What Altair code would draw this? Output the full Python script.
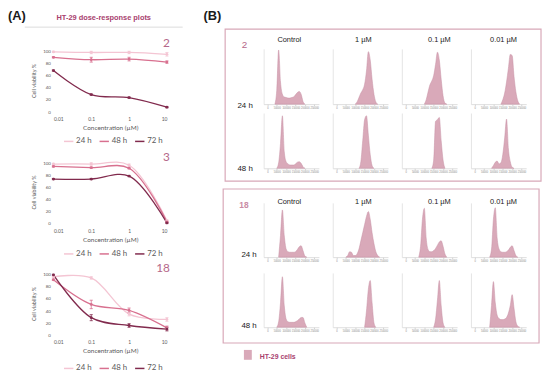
import altair as alt
import pandas as pd

# ---------------- Panel A : dose-response data ----------------
CONC = [0.01, 0.1, 1, 10]
TIMES = ["24 h", "48 h", "72 h"]
TIME_COLORS = ["#f4c5d3", "#d8708f", "#812a4d"]
VIAB_TICKS = [0, 20, 40, 60, 80, 100]

# compound 2
V2_24 = [100, 99, 99, 96]
E2_24 = [1, 2, 2, 3]
V2_48 = [91, 87, 88, 83]
E2_48 = [1, 4, 3, 2]
V2_72 = [69, 29, 24, 8]
E2_72 = [1, 1, 1, 1]
# compound 3
V3_24 = [99, 99, 97, 5]
E3_24 = [1, 2, 2, 1]
V3_48 = [95, 93, 92, 3]
E3_48 = [1, 1, 1, 1]
V3_72 = [74, 74, 79, 1]
E3_72 = [1, 1, 1, 1]
# compound 18
V18_24 = [97, 95, 35, 26]
E18_24 = [1, 2, 3, 3]
V18_48 = [92, 51, 41, 12]
E18_48 = [1, 7, 4, 3]
V18_72 = [100, 29, 16, 10]
E18_72 = [1, 5, 3, 3]

COMPOUNDS = ["2", "3", "18"]
PANEL_LABELS = ["(A)", "(B)"]
PANEL_A_TITLE = "HT-29 dose-response plots"

# ---------------- Panel B : cell-cycle histograms ----------------
DNA_BINS = [0, 10000, 20000, 30000, 40000, 50000, 60000, 70000, 80000, 90000,
            100000, 110000, 120000, 130000, 140000, 150000, 160000, 170000,
            180000, 190000, 200000, 210000, 220000, 230000, 240000, 250000]
DNA_TICKS = [0, 50000, 100000, 150000, 200000, 250000]
COLUMNS = ["Control", "1 µM", "0.1 µM", "0.01 µM"]
ROW_LABELS = ["24 h", "48 h"]
LEGEND_B = "HT-29 cells"

H2_24_CTRL = [0,0,0,0,0,25,98,40,18,13,12,11,11,12,13,17,21,23,18,5,0,0,0,0,0,0]
H2_24_1UM = [0,0,0,0,0,0,0,0,0,0,0,4,12,20,26,36,60,95,80,45,18,4,0,0,0,0]
H2_24_01UM = [0,0,0,0,0,0,0,0,0,0,0,8,22,35,42,52,72,94,80,45,15,2,0,0,0,0]
H2_24_001UM = [0,0,0,0,0,0,0,0,0,0,0,0,0,0,0,8,20,40,65,90,88,50,22,6,0,0]
H2_48_CTRL = [0,0,0,0,0,0,10,45,95,30,12,8,6,6,6,8,11,12,9,3,0,0,0,0,0,0]
H2_48_1UM = [0,0,0,0,0,0,0,0,0,0,0,0,0,12,50,88,95,60,25,5,0,0,0,0,0,0]
H2_48_01UM = [0,0,0,0,0,0,0,0,0,0,0,0,0,0,0,15,85,88,92,50,15,0,0,0,0,0]
H2_48_001UM = [0,0,0,0,0,0,0,0,0,0,5,11,13,8,10,25,55,89,35,12,2,0,0,0,0,0]

H18_24_CTRL = [0,0,0,0,0,0,0,40,87,40,15,10,9,9,9,10,14,19,21,12,2,0,0,0,0,0]
H18_24_1UM = [0,0,0,0,0,0,3,10,9,3,3,6,15,30,45,60,75,84,70,45,25,10,3,0,0,0]
H18_24_01UM = [0,0,0,0,0,0,0,0,20,70,90,35,14,10,10,12,16,22,28,30,20,6,0,0,0,0]
H18_24_001UM = [0,0,0,0,0,0,0,0,0,15,70,91,35,15,10,9,9,10,13,18,21,12,3,0,0,0]
H18_48_CTRL = [0,0,0,0,0,0,10,45,93,40,15,10,9,9,9,10,12,15,18,18,8,0,0,0,0,0]
H18_48_1UM = [0,0,0,0,0,0,0,0,0,0,0,0,0,0,0,0,30,70,86,45,8,0,0,0,0,0]
H18_48_01UM = [0,0,0,0,0,0,0,0,0,0,0,0,0,0,0,0,15,50,86,40,8,0,0,0,0,0]
H18_48_001UM = [0,0,0,0,0,0,0,0,0,40,84,45,22,16,14,14,15,18,26,40,60,35,10,2,0,0]

# ---------------- styles ----------------
ACCENT = "#a8416e"
NUM_COLOR = "#b5678a"
NUM_COLOR_LIGHT = "#c98ba4"
HIST_FILL = "#d9a9b9"
HIST_EDGE = "#c68ea3"
BOX_STROKE = "#d8a8b8"
AX_GREY = "#595959"


def one(text):
    return pd.DataFrame({"t": [text]})


def text_at(s, x, y, **kw):
    return alt.Chart(one(s)).mark_text(**kw).encode(
        text="t:N", x=alt.value(x), y=alt.value(y))


# ---------------- line panels ----------------
def line_panel(num, vals, errs, num_dy, legend_y, header=False):
    rows = []
    for t, v, e in zip(TIMES, vals, errs):
        for c, vi, ei in zip(CONC, v, e):
            rows.append({"conc": c, "time": t, "v": vi, "lo": vi - ei, "hi": vi + ei})
    df = pd.DataFrame(rows)
    cscale = alt.Scale(domain=TIMES, range=TIME_COLORS)
    xs = alt.Scale(type="log", domain=[0.01, 10], nice=False)
    ys = alt.Scale(domain=[0, 105], nice=False, zero=False)
    xaxis = alt.Axis(values=CONC, format="~g", labelFontSize=5, labelFont="Lato",
                     labelColor=AX_GREY, labelPadding=5, domain=False, ticks=False,
                     grid=False, title="Concentration (µM)", titleFont="Lato",
                     titleFontSize=6.5, titleFontWeight="normal", titleColor=AX_GREY,
                     titlePadding=3)
    yaxis = alt.Axis(values=VIAB_TICKS, labelFontSize=4.5, labelFont="Lato",
                     labelColor=AX_GREY, labelPadding=3, domain=False, ticks=False,
                     grid=False, title="Cell viability %", titleFont="Lato",
                     titleFontSize=5.5, titleFontWeight="normal", titleColor=AX_GREY,
                     titlePadding=6)
    base = alt.Chart(df)
    X = alt.X("conc:Q", scale=xs, axis=xaxis)
    col_nolegend = alt.Color("time:N", scale=cscale, legend=None)
    legend = alt.Legend(orient="none", legendX=10, legendY=legend_y, direction="horizontal",
                        title=None, symbolType="stroke", symbolSize=90,
                        symbolStrokeWidth=1.5, labelFontSize=8, labelFont="Lato",
                        labelColor=AX_GREY, columnPadding=4, labelOffset=2)
    line = base.mark_line(interpolate="catmull-rom", strokeWidth=1.3).encode(
        x=X, y=alt.Y("v:Q", scale=ys, axis=yaxis),
        color=alt.Color("time:N", scale=cscale, legend=legend))
    err = base.mark_rule(strokeWidth=0.8).encode(
        x=X, y=alt.Y("lo:Q", scale=ys, axis=yaxis), y2="hi:Q", color=col_nolegend)
    cap_lo = base.mark_point(shape="stroke", size=10, strokeWidth=0.8, opacity=1).encode(
        x=X, y=alt.Y("lo:Q", scale=ys, axis=yaxis), color=col_nolegend)
    cap_hi = base.mark_point(shape="stroke", size=10, strokeWidth=0.8, opacity=1).encode(
        x=X, y=alt.Y("hi:Q", scale=ys, axis=yaxis), color=col_nolegend)
    pts = base.mark_point(filled=True, size=8, opacity=1).encode(
        x=X, y=alt.Y("v:Q", scale=ys, axis=yaxis), color=col_nolegend)
    number = text_at(num, 118, num_dy, align="right", baseline="alphabetic",
                     fontSize=12, font="Lato", color=NUM_COLOR)
    layers = [line, err, cap_lo, cap_hi, pts, number]
    if header:
        layers += [
            text_at(PANEL_LABELS[0], -46, -29, align="left", baseline="alphabetic",
                    fontSize=13, fontWeight="bold", font="Liberation Sans", color="#1a1a1a"),
            text_at(PANEL_A_TITLE, 51, -29, align="center", baseline="alphabetic",
                    fontSize=7.5, fontWeight="bold", font="Liberation Sans", color=ACCENT),
            alt.Chart(one("")).mark_rule(color="#dcdcdc", strokeWidth=1).encode(
                x=alt.value(-29), x2=alt.value(131), y=alt.value(-22)),
        ]
    return alt.layer(*layers).properties(width=115, height=64)


c2 = line_panel(COMPOUNDS[0], [V2_24, V2_48, V2_72], [E2_24, E2_48, E2_72], -2, 88, header=True)
c3 = line_panel(COMPOUNDS[1], [V3_24, V3_48, V3_72], [E3_24, E3_48, E3_72], 1, 89)
c18 = line_panel(COMPOUNDS[2], [V18_24, V18_48, V18_72], [E18_24, E18_48, E18_72], 0, 92)

left = alt.vconcat(c2, c3, c18, spacing=49, bounds="flush").resolve_scale(
    color="independent").resolve_legend(color="independent")


# ---------------- histogram panels ----------------
CELL_W = 56
COL_DX = [-2, 3, 10, 5]


def hist_cell(values, h, extras):
    nz = [i for i, v in enumerate(values) if v > 0]
    a = max(nz[0] - 1, 0)
    b = min(nz[-1] + 2, len(values))
    df = pd.DataFrame({"dna": DNA_BINS[a:b], "count": values[a:b]})
    area = alt.Chart(df).mark_area(interpolate="monotone", fill=HIST_FILL,
                                   stroke=HIST_EDGE, strokeWidth=0.5, opacity=1).encode(
        x=alt.X("dna:Q", scale=alt.Scale(domain=[-20000, 275000], nice=False, zero=False),
                axis=alt.Axis(values=DNA_TICKS, format="d", labelFontSize=2.6,
                              labelColor="#888", labelPadding=1, tickSize=1.5,
                              tickColor="#aaa", tickWidth=0.5, domainColor="#cfcfcf",
                              domainWidth=0.7, grid=False, title=None,
                              labelFont="Liberation Sans")),
        y=alt.Y("count:Q", scale=alt.Scale(domain=[0, 100], nice=False),
                axis=alt.Axis(domain=True, domainColor="#d9d9d9", domainWidth=0.7,
                              ticks=False, labels=False, grid=False, title=None)))
    return alt.layer(area, *extras).properties(width=CELL_W, height=h)


def build_box(hists, h, row_gap, title_y, row_label_x, row_label_y, extra):
    cells = []
    for r in range(2):
        for c in range(4):
            ex = []
            if r == 0:
                ex.append(text_at(COLUMNS[c], CELL_W / 2 + COL_DX[c], title_y,
                                  align="center", baseline="alphabetic", fontSize=7.5,
                                  font="Liberation Sans", color="#1a1a1a"))
            if c == 0:
                ex.append(text_at(ROW_LABELS[r], row_label_x, row_label_y[r],
                                  align="right", baseline="alphabetic", fontSize=8,
                                  font="Liberation Sans", color="#1a1a1a"))
            ex += extra.get((r, c), [])
            cells.append(hist_cell(hists[r][c], h, ex))
    return alt.concat(*cells, columns=4, spacing={"row": row_gap, "column": 14},
                      bounds="flush")


def border(x1, x2, y1, y2):
    return alt.Chart(one("")).mark_rect(fillOpacity=0, stroke=BOX_STROKE,
                                        strokeWidth=1.2).encode(
        x=alt.value(x1), x2=alt.value(x2), y=alt.value(y1), y2=alt.value(y2))


box1 = build_box(
    [[H2_24_CTRL, H2_24_1UM, H2_24_01UM, H2_24_001UM],
     [H2_48_CTRL, H2_48_1UM, H2_48_01UM, H2_48_001UM]],
    56, 9, -7, -11, [60, 59],
    {(0, 0): [
        border(-39, 281, -20, 134),
        text_at(PANEL_LABELS[1], -61, -29, align="left", baseline="alphabetic",
                fontSize=13, fontWeight="bold", font="Liberation Sans", color="#1a1a1a"),
        text_at(COMPOUNDS[0], -19.5, -1, align="center", baseline="alphabetic",
                fontSize=10, font="Liberation Sans", color=NUM_COLOR),
    ]})

box2 = build_box(
    [[H18_24_CTRL, H18_24_1UM, H18_24_01UM, H18_24_001UM],
     [H18_48_CTRL, H18_48_1UM, H18_48_01UM, H18_48_001UM]],
    55, 16, 1, -7, [55, 56],
    {(0, 0): [
        border(-41, 279, -14, 142),
        text_at(COMPOUNDS[2], -20, 5, align="center", baseline="alphabetic",
                fontSize=8.5, fontWeight="bold", font="Liberation Sans", color=NUM_COLOR_LIGHT),
    ],
     (1, 0): [
        alt.Chart(one("")).mark_rect(fill=HIST_FILL).encode(
            x=alt.value(-20), x2=alt.value(-12), y=alt.value(78), y2=alt.value(88)),
        text_at(LEGEND_B, -4, 87, align="left", baseline="alphabetic", fontSize=7,
                fontWeight="bold", font="Liberation Sans", color=ACCENT),
    ]})

right = alt.vconcat(box1, box2, spacing=6)

chart = alt.hconcat(left, right, spacing=20).properties(
    padding=0, background="white").configure_view(stroke=None)

chart.save("out.html", embed_options={"renderer": "svg", "actions": False})
